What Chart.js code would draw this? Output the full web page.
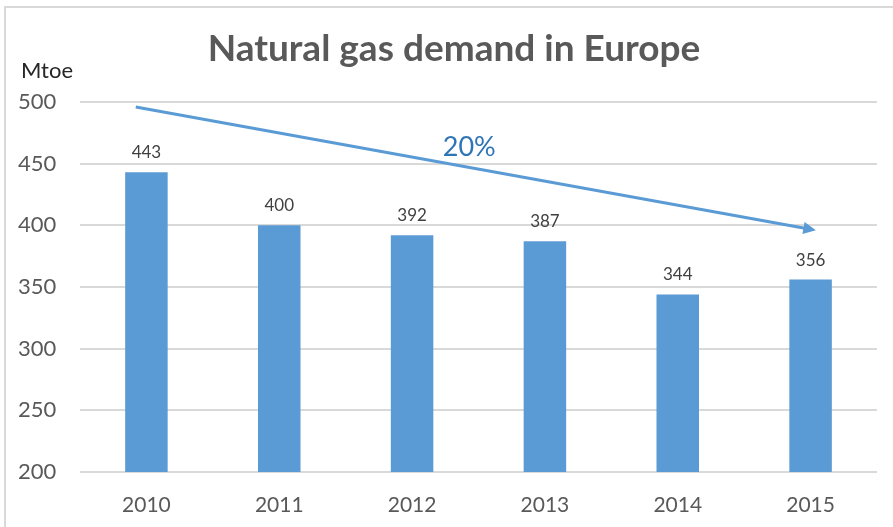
<!DOCTYPE html>
<html>
<head>
<meta charset="utf-8">
<script src="https://cdn.jsdelivr.net/npm/chart.js@4"></script>
<style>
  html, body { margin: 0; padding: 0; background: #fff; }
  #wrap { width: 893px; height: 527px; position: relative; }
</style>
</head>
<body>
<div id="wrap"><canvas id="gas-chart"></canvas></div>
<script>
// Chart data
const years = ['2010', '2011', '2012', '2013', '2014', '2015'];
const demand = [443, 400, 392, 387, 344, 356];
const yTicks = [200, 250, 300, 350, 400, 450, 500];

// Trend arrow, in category index / value units
const arrowFrom = [-0.08, 496];
const arrowTo = [5.04, 396];
const arrowLabel = '20%';
const arrowLabelAt = [2.43, 463];

const chartTitle = 'Natural gas demand in Europe';
const unitLabel = 'Mtoe';

const FONT = 'Lato, "Open Sans", sans-serif';

const decorations = {
    id: 'decorations',
    beforeDraw(chart) {
        const ctx = chart.ctx;
        ctx.save();
        ctx.strokeStyle = '#d9d9d9';
        ctx.lineWidth = 2;
        ctx.beginPath();
        ctx.moveTo(5, 527);
        ctx.lineTo(5, 7);
        ctx.lineTo(893, 7);
        ctx.stroke();

        ctx.fillStyle = '#595959';
        ctx.font = 'bold 37px ' + FONT;
        ctx.textAlign = 'center';
        ctx.textBaseline = 'middle';
        ctx.fillText(chartTitle, 454, 49);

        ctx.fillStyle = '#262626';
        ctx.font = '22px ' + FONT;
        ctx.textAlign = 'left';
        ctx.fillText(unitLabel, 21, 71);
        ctx.restore();
    },
    afterDatasetsDraw(chart) {
        const ctx = chart.ctx;
        const meta = chart.getDatasetMeta(0);
        ctx.save();
        ctx.fillStyle = '#404040';
        ctx.font = '17px ' + FONT;
        ctx.textAlign = 'center';
        ctx.textBaseline = 'bottom';
        meta.data.forEach((bar, i) => {
            ctx.fillText(demand[i], bar.x, bar.y - 11);
        });

        const xs = chart.scales.x, ys = chart.scales.y;
        const x1 = xs.getPixelForValue(arrowFrom[0]), y1 = ys.getPixelForValue(arrowFrom[1]);
        const x2 = xs.getPixelForValue(arrowTo[0]), y2 = ys.getPixelForValue(arrowTo[1]);
        const ang = Math.atan2(y2 - y1, x2 - x1);
        const head = 14;
        ctx.strokeStyle = '#5b9bd5';
        ctx.fillStyle = '#5b9bd5';
        ctx.lineWidth = 3;
        ctx.beginPath();
        ctx.moveTo(x1, y1);
        ctx.lineTo(x2 - head * 0.8 * Math.cos(ang), y2 - head * 0.8 * Math.sin(ang));
        ctx.stroke();
        ctx.beginPath();
        ctx.moveTo(x2, y2);
        ctx.lineTo(x2 - head * Math.cos(ang - 0.45), y2 - head * Math.sin(ang - 0.45));
        ctx.lineTo(x2 - head * Math.cos(ang + 0.45), y2 - head * Math.sin(ang + 0.45));
        ctx.closePath();
        ctx.fill();

        ctx.fillStyle = '#2e75b6';
        ctx.font = '27px ' + FONT;
        ctx.textBaseline = 'middle';
        ctx.fillText(arrowLabel, xs.getPixelForValue(arrowLabelAt[0]), ys.getPixelForValue(arrowLabelAt[1]));
        ctx.restore();
    }
};

new Chart(document.getElementById('gas-chart'), {
    type: 'bar',
    data: {
        labels: years,
        datasets: [{
            data: demand,
            backgroundColor: '#5b9bd5',
            barPercentage: 0.32,
            categoryPercentage: 1
        }]
    },
    options: {
        responsive: true,
        maintainAspectRatio: false,
        animation: false,
        layout: { padding: { left: 18, right: 16, top: 102, bottom: 0 } },
        plugins: {
            legend: { display: false },
            tooltip: { enabled: false }
        },
        scales: {
            x: {
                grid: { display: false },
                border: { display: false },
                ticks: { color: '#595959', font: { family: FONT, size: 21 }, padding: 13 },
                afterFit: s => { s.height = 55; }
            },
            y: {
                min: 200,
                max: 500,
                afterBuildTicks: s => { s.ticks = yTicks.map(v => ({ value: v })); },
                grid: { color: '#d9d9d9', lineWidth: 2, drawTicks: false },
                border: { display: false },
                ticks: { color: '#595959', font: { family: FONT, size: 22 }, crossAlign: 'far', padding: 10 },
                afterFit: s => { s.width = 62; }
            }
        }
    },
    plugins: [decorations]
});
</script>
</body>
</html>
